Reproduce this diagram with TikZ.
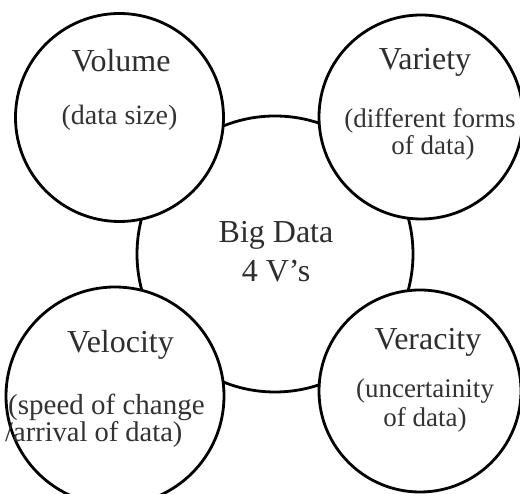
\documentclass[tikz,border=0pt]{standalone}
\usepackage{fontspec}
\setmainfont{Liberation Serif}
\begin{document}
\begin{tikzpicture}[x=1pt,y=1pt,
  ring/.style={circle, draw=black, line width=2.8pt, fill=white, inner sep=0pt},
  title/.style={anchor=base, inner sep=0pt, text=black!82, font=\fontsize{32}{32}\selectfont},
  sub/.style={anchor=base, inner sep=0pt, text=black!80, font=\fontsize{27}{27}\selectfont},
  core/.style={anchor=base, inner sep=0pt, text=black!82, font=\fontsize{32}{32}\selectfont}]
\useasboundingbox (0,0) rectangle (520,494);
\clip (0,0) rectangle (520,494);
\fill[white] (0,0) rectangle (520,494);
% central circle
\node[ring, minimum size=276pt] (center) at (275,240) {};
% four V circles
\node[ring, minimum size=208pt] (volume) at (119.5,376.5) {};
\node[ring, minimum size=204pt] (variety) at (421,377) {};
\node[ring, minimum size=218pt] (velocity) at (115,98) {};
\node[ring, minimum size=202pt] (veracity) at (420,103) {};
% texts
\node[core] (bd1) at (276,251) {Big Data};
\node[core] (bd2) at (276,212) {4 V's};
\node[title] (t1) at (121,422) {Volume};
\node[sub, font=\fontsize{28}{28}\selectfont] (s1) at (119.5,369) {(data size)};
\node[title] (t2) at (425,424) {Variety};
\node[sub] (s2a) at (430,366) {(different forms};
\node[sub] (s2b) at (433,339) {of data)};
\node[title] (t3) at (120.5,141) {Velocity};
\node[sub, anchor=base west, font=\fontsize{29}{29}\selectfont] (s3a) at (8,79) {(speed of change};
\node[sub, anchor=base west, font=\fontsize{28.5}{28.5}\selectfont] (s3b) at (5,52) {/arrival of data)};
\node[title] (t4) at (428,144) {Veracity};
\node[sub] (s4a) at (425,96) {(uncertainity};
\node[sub] (s4b) at (425,67) {of data)};
\end{tikzpicture}
\end{document}
